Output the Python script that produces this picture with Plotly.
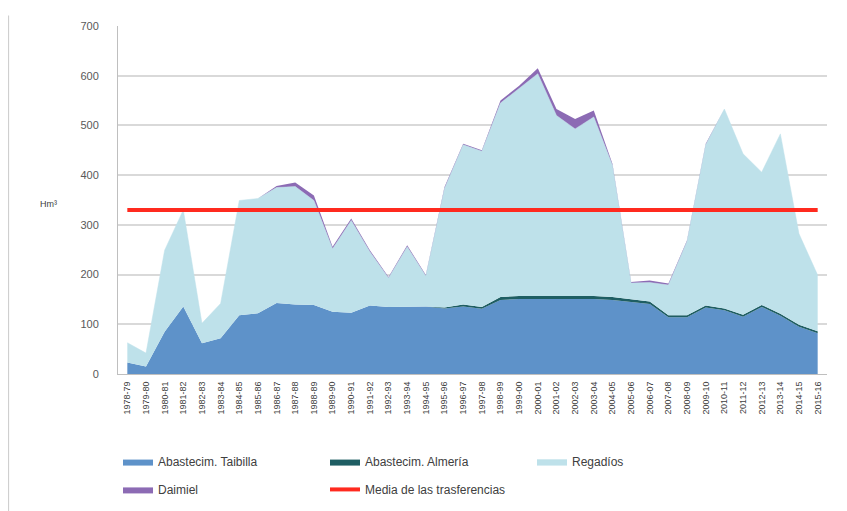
import plotly.graph_objects as go

years = ["1978-79","1979-80","1980-81","1981-82","1982-83","1983-84","1984-85","1985-86",
         "1986-87","1987-88","1988-89","1989-90","1990-91","1991-92","1992-93","1993-94",
         "1994-95","1995-96","1996-97","1997-98","1998-99","1999-00","2000-01","2001-02",
         "2002-03","2003-04","2004-05","2005-06","2006-07","2007-08","2008-09","2009-10",
         "2010-11","2011-12","2012-13","2013-14","2014-15","2015-16"]

taibilla = [23, 15, 85, 136, 62, 72, 118, 122, 143, 140, 139, 125, 123, 138, 135, 136,
            136, 132, 136, 131, 149, 151, 151, 151, 151, 151, 149, 145, 141, 114, 114, 134,
            128, 115, 135, 117, 95, 82]
almeria = [0, 0, 0, 0, 0, 0, 0, 0, 0, 0, 0, 0, 0, 0, 0, 0,
           0, 2, 4, 4, 6, 6, 6, 6, 6, 6, 6, 5, 5, 4, 4, 4,
           4, 4, 4, 4, 4, 4]
regadios = [40, 27, 164, 194, 40, 70, 231, 231, 232, 237, 210, 127, 186, 108, 58, 120,
            61, 239, 321, 313, 390, 417, 447, 363, 336, 360, 265, 33, 38, 61, 149, 323,
            401, 324, 267, 362, 183, 113]
daimiel = [0, 0, 0, 0, 0, 0, 0, 0, 3, 8, 10, 4, 4, 3, 2, 3,
           2, 3, 2, 2, 5, 6, 11, 13, 20, 13, 3, 2, 4, 3, 2, 2,
           0, 0, 0, 0, 0, 0]
media = [330] * len(years)

y_ticks = [0, 100, 200, 300, 400, 500, 600, 700]

fig = go.Figure()
fig.add_trace(go.Scatter(x=years, y=taibilla, name="Abastecim. Taibilla", stackgroup="s",
                         mode="lines", line=dict(color="#5E92C9", width=0),
                         fillcolor="#5E92C9", legend="legend"))
fig.add_trace(go.Scatter(x=years, y=almeria, name="Abastecim. Almería", stackgroup="s",
                         mode="lines", line=dict(color="#1E5E63", width=0),
                         fillcolor="#1E5E63", legend="legend"))
fig.add_trace(go.Scatter(x=years, y=regadios, name="Regadíos", stackgroup="s",
                         mode="lines", line=dict(color="#BEE1EA", width=0.5),
                         fillcolor="#BEE1EA", legend="legend"))
fig.add_trace(go.Scatter(x=years, y=daimiel, name="Daimiel", stackgroup="s",
                         mode="lines", line=dict(color="#8C6BB4", width=0),
                         fillcolor="#8C6BB4", legend="legend2"))
fig.add_trace(go.Scatter(x=years, y=media, name="Media de las trasferencias",
                         mode="lines", line=dict(color="#FF2A1F", width=4),
                         legend="legend2"))

legend_common = dict(orientation="h", xanchor="left", yanchor="top",
                     traceorder="normal", entrywidth=162, entrywidthmode="pixels",
                     font=dict(size=12, color="#404040"), bgcolor="rgba(0,0,0,0)")

fig.update_layout(
    width=847, height=511,
    margin=dict(l=110, r=28, t=18, b=145),
    paper_bgcolor="white", plot_bgcolor="white",
    font=dict(family="Liberation Sans, Arial, sans-serif", color="#595959"),
    showlegend=True,
    legend=dict(x=0.0, y=-0.21, **legend_common),
    legend2=dict(x=0.0, y=-0.29, **legend_common),
    xaxis=dict(type="category", range=[-0.5, len(years) - 0.5], tickangle=-90,
               tickfont=dict(size=9, color="#404040"), showgrid=False,
               showline=True, linecolor="#BFBFBF", linewidth=1, ticks="",
               ticklabelstandoff=3),
    yaxis=dict(range=[0, 700], tickvals=y_ticks, tickfont=dict(size=11, color="#595959"),
               showgrid=True, gridcolor="#D9D9D9", gridwidth=2,
               showline=True, linecolor="#BFBFBF", linewidth=1, zeroline=False,
               ticks="", ticklabelstandoff=16),
    annotations=[dict(text="Hm³", xref="paper", yref="paper", x=-0.113, y=0.489,
                      showarrow=False, font=dict(size=9, color="#404040"))],
    shapes=[dict(type="line", xref="paper", yref="paper", x0=-0.155, x1=-0.155,
                 y0=-0.45, y1=1.03, line=dict(color="#CFCFCF", width=2))],
)

fig.write_html("out.html")
